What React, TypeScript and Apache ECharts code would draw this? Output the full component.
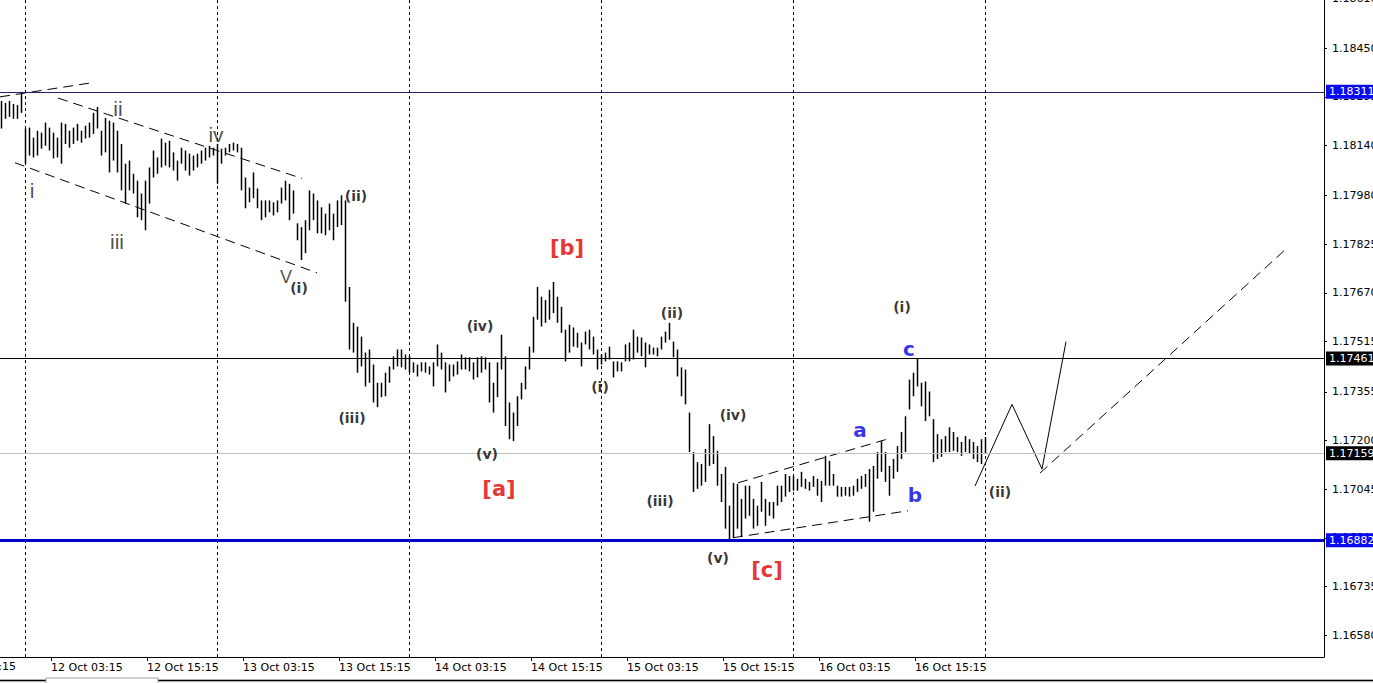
import React, { useEffect, useRef } from "react";
import * as echarts from "echarts";

// 30-minute bars; bar index 0 = 12 Oct 00:00
const FIRST_BAR = -6;

const barHigh = [
  1.18282, 1.18276, 1.18282, 1.18272, 1.18269, 1.18311,
  1.18194, 1.18197, 1.18165, 1.18187, 1.18181, 1.18213, 1.18197, 1.18181, 1.18165, 1.18213, 1.18209, 1.18187,
  1.18197, 1.18209, 1.18187, 1.18203, 1.18213, 1.18244, 1.18263, 1.18187, 1.18228, 1.18219, 1.18213, 1.18187,
  1.18145, 1.18082, 1.18092, 1.18050, 1.18028, 1.17987, 1.18028, 1.18070, 1.18124, 1.18102, 1.18162, 1.18149,
  1.18155, 1.18118, 1.18092, 1.18133, 1.18124, 1.18114, 1.18108, 1.18114, 1.18124, 1.18133, 1.18139, 1.18133,
  1.18145, 1.18130, 1.18133, 1.18145, 1.18149, 1.18145, 1.18133, 1.18038, 1.18006, 1.18054, 1.18003, 1.17965,
  1.17965, 1.17965, 1.17959, 1.17965, 1.18006, 1.18028, 1.18018, 1.17997, 1.17892, 1.17880, 1.17902, 1.17997,
  1.17987, 1.17965, 1.17943, 1.17923, 1.17955, 1.17923, 1.17965, 1.17981, 1.17965, 1.17689, 1.17575, 1.17563,
  1.17531, 1.17480, 1.17490, 1.17442, 1.17384, 1.17384, 1.17416, 1.17436, 1.17468, 1.17490, 1.17490, 1.17474,
  1.17468, 1.17449, 1.17442, 1.17449, 1.17449, 1.17436, 1.17449, 1.17506, 1.17480, 1.17449, 1.17442, 1.17442,
  1.17452, 1.17474, 1.17465, 1.17465, 1.17449, 1.17465, 1.17468, 1.17465, 1.17449, 1.17384, 1.17449, 1.17537,
  1.17468, 1.17321, 1.17289, 1.17341, 1.17384, 1.17436, 1.17499, 1.17594, 1.17689, 1.17658, 1.17648, 1.17680,
  1.17705, 1.17658, 1.17626, 1.17553, 1.17569, 1.17560, 1.17543, 1.17512, 1.17547, 1.17553, 1.17531, 1.17490,
  1.17474, 1.17480, 1.17499, 1.17452, 1.17452, 1.17449, 1.17506, 1.17512, 1.17553, 1.17531, 1.17528, 1.17512,
  1.17506, 1.17496, 1.17496, 1.17531, 1.17547, 1.17575, 1.17515, 1.17490, 1.17433, 1.17426, 1.17289, 1.17163,
  1.17131, 1.17125, 1.17173, 1.17252, 1.17214, 1.17167, 1.17093, 1.17116, 1.16992, 1.17065, 1.17062, 1.17014,
  1.17056, 1.17056, 1.17014, 1.16992, 1.17068, 1.17014, 1.17004, 1.17004, 1.17056, 1.17056, 1.17093, 1.17087,
  1.17087, 1.17078, 1.17100, 1.17078, 1.17068, 1.17087, 1.17078, 1.17071, 1.17151, 1.17135, 1.17093, 1.17056,
  1.17052, 1.17052, 1.17052, 1.17056, 1.17078, 1.17087, 1.17093, 1.17109, 1.17119, 1.17163, 1.17198, 1.17163,
  1.17119, 1.17141, 1.17182, 1.17227, 1.17277, 1.17394, 1.17416, 1.17461, 1.17384, 1.17388, 1.17356, 1.17268,
  1.17220, 1.17204, 1.17214, 1.17242, 1.17227, 1.17211, 1.17195, 1.17214, 1.17204, 1.17195, 1.17182, 1.17204,
  1.17211,
];

const barLow = [
  1.18194, 1.18225, 1.18231, 1.18225, 1.18225, 1.18244,
  1.18082, 1.18108, 1.18102, 1.18108, 1.18130, 1.18139, 1.18124, 1.18099, 1.18102, 1.18082, 1.18145, 1.18133,
  1.18145, 1.18155, 1.18149, 1.18162, 1.18165, 1.18177, 1.18194, 1.18108, 1.18118, 1.18054, 1.18092, 1.18054,
  1.17997, 1.17955, 1.17997, 1.17987, 1.17911, 1.17902, 1.17870, 1.17955, 1.18038, 1.18050, 1.18070, 1.18076,
  1.18070, 1.18060, 1.18028, 1.18082, 1.18060, 1.18044, 1.18060, 1.18070, 1.18082, 1.18092, 1.18102, 1.18108,
  1.18018, 1.18082, 1.18108, 1.18118, 1.18124, 1.18118, 1.17997, 1.17940, 1.17959, 1.17972, 1.17940, 1.17902,
  1.17911, 1.17927, 1.17917, 1.17927, 1.17955, 1.17965, 1.17902, 1.17923, 1.17838, 1.17775, 1.17797, 1.17870,
  1.17902, 1.17860, 1.17860, 1.17854, 1.17870, 1.17838, 1.17880, 1.17886, 1.17642, 1.17490, 1.17480, 1.17416,
  1.17436, 1.17372, 1.17384, 1.17321, 1.17306, 1.17338, 1.17341, 1.17384, 1.17426, 1.17436, 1.17433, 1.17426,
  1.17416, 1.17416, 1.17404, 1.17420, 1.17416, 1.17410, 1.17372, 1.17436, 1.17426, 1.17353, 1.17388, 1.17404,
  1.17410, 1.17426, 1.17426, 1.17420, 1.17394, 1.17401, 1.17416, 1.17426, 1.17321, 1.17289, 1.17338, 1.17426,
  1.17246, 1.17204, 1.17198, 1.17246, 1.17331, 1.17363, 1.17426, 1.17480, 1.17585, 1.17563, 1.17575, 1.17585,
  1.17606, 1.17575, 1.17543, 1.17452, 1.17480, 1.17499, 1.17496, 1.17436, 1.17506, 1.17490, 1.17474, 1.17426,
  1.17442, 1.17452, 1.17458, 1.17401, 1.17420, 1.17420, 1.17452, 1.17452, 1.17458, 1.17480, 1.17468, 1.17433,
  1.17474, 1.17474, 1.17468, 1.17490, 1.17512, 1.17521, 1.17465, 1.17404, 1.17341, 1.17315, 1.17163, 1.17036,
  1.17046, 1.17056, 1.17068, 1.17119, 1.17125, 1.17056, 1.17004, 1.16919, 1.16882, 1.16890, 1.16919, 1.16894,
  1.16951, 1.16960, 1.16919, 1.16928, 1.16973, 1.16928, 1.16960, 1.16951, 1.16992, 1.17004, 1.17021, 1.17036,
  1.17040, 1.17040, 1.17052, 1.17046, 1.17040, 1.17052, 1.17024, 1.17004, 1.17056, 1.17056, 1.17056, 1.17021,
  1.17021, 1.17024, 1.17021, 1.17024, 1.17036, 1.17046, 1.17052, 1.16941, 1.16973, 1.17078, 1.17100, 1.17068,
  1.17024, 1.17078, 1.17100, 1.17141, 1.17163, 1.17299, 1.17341, 1.17372, 1.17309, 1.17262, 1.17277, 1.17131,
  1.17141, 1.17148, 1.17163, 1.17163, 1.17167, 1.17163, 1.17151, 1.17163, 1.17157, 1.17141, 1.17131, 1.17125,
  1.17157,
];

const timeTicks = [6.5, 30.5, 54.5, 78.5, 102.5, 126.5, 150.5, 174.5, 198.5, 222.5];
const timeLabels = [
  "12 Oct 03:15", "12 Oct 15:15", "13 Oct 03:15", "13 Oct 15:15", "14 Oct 03:15",
  "14 Oct 15:15", "15 Oct 03:15", "15 Oct 15:15", "16 Oct 03:15", "16 Oct 15:15",
];
const hiddenLeftLabel = "9 Oct 15:15";
const daySeparators = [0, 48, 96, 144, 192, 240];

const priceTicks = [
  1.1861, 1.1845, 1.18295, 1.1814, 1.1798, 1.17825, 1.1767,
  1.17515, 1.17355, 1.172, 1.17045, 1.1689, 1.16735, 1.1658,
];

const levelValues = [1.18311, 1.17461, 1.17159, 1.16882];
const levelKinds = ["navy", "black", "bid", "support"];

const trendLines = [
  { from: [-6.25, 1.18295], to: [16.25, 1.18339], kind: "dashed" },
  { from: [8.25, 1.18291], to: [69.25, 1.18035], kind: "dashed" },
  { from: [-2.5, 1.18085], to: [73, 1.17734], kind: "dashed" },
  { from: [178.25, 1.17065], to: [215.5, 1.17204], kind: "dashed" },
  { from: [177, 1.1689], to: [220.75, 1.16976], kind: "dashed" },
  { from: [237.5, 1.17055], to: [246.75, 1.17315], kind: "solid" },
  { from: [246.75, 1.17315], to: [254.25, 1.17109], kind: "solid" },
  { from: [254.25, 1.17109], to: [260.25, 1.17515], kind: "solid" },
  { from: [253.75, 1.17096], to: [315.75, 1.17816], kind: "dashed" },
];

const waveLabels = [
  { text: "i", at: [1.75, 1.17997], kind: "minor" },
  { text: "ii", at: [23.25, 1.18257], kind: "minor" },
  { text: "iii", at: [23, 1.17835], kind: "minor" },
  { text: "iv", at: [47.75, 1.18174], kind: "minor" },
  { text: "V", at: [65.25, 1.17721], kind: "minorCap" },
  { text: "(i)", at: [68.5, 1.17686], kind: "minute" },
  { text: "(ii)", at: [82.75, 1.17978], kind: "minute" },
  { text: "(iii)", at: [81.75, 1.17271], kind: "minute" },
  { text: "(iv)", at: [113.75, 1.17566], kind: "minute" },
  { text: "(v)", at: [115.5, 1.17157], kind: "minute" },
  { text: "[a]", at: [118.5, 1.17046], kind: "red" },
  { text: "[b]", at: [135.5, 1.17813], kind: "red" },
  { text: "(i)", at: [143.75, 1.17369], kind: "minute" },
  { text: "(ii)", at: [161.75, 1.17607], kind: "minute" },
  { text: "(iii)", at: [158.75, 1.17008], kind: "minute" },
  { text: "(iv)", at: [177, 1.1728], kind: "minute" },
  { text: "(v)", at: [173.25, 1.16827], kind: "minute" },
  { text: "[c]", at: [185.5, 1.16786], kind: "red" },
  { text: "(i)", at: [219.25, 1.17626], kind: "minute" },
  { text: "c", at: [221, 1.1749], kind: "blue" },
  { text: "a", at: [208.75, 1.17233], kind: "blue" },
  { text: "b", at: [222.5, 1.17027], kind: "blue" },
  { text: "(ii)", at: [243.75, 1.17036], kind: "minute" },
];

const FONT = "DejaVu Sans";

const labelStyles: Record<string, any> = {
  minor: { fontFamily: "Liberation Sans", fontSize: 21, color: "#1e1e1e" },
  minorCap: { fontFamily: "Liberation Sans", fontSize: 18, color: "#1e1e1e" },
  minute: { fontFamily: FONT, fontSize: 14, fontWeight: "bold", color: "#000" },
  red: { fontFamily: FONT, fontSize: 21, fontWeight: "bold", color: "#e00000" },
  blue: { fontFamily: FONT, fontSize: 20, fontWeight: "bold", color: "#0000dd" },
};

const levelStyles: Record<string, any> = {
  navy: { line: { color: "#23236e", width: 1, type: "solid" }, box: "#0a0af0" },
  black: { line: { color: "#000000", width: 1, type: "solid" }, box: "#000000" },
  bid: { line: { color: "#c0c0c0", width: 1, type: "solid" }, box: "#000000" },
  support: { line: { color: "#0000c8", width: 3, type: "solid" }, box: "#0a0af0" },
};

export default function App() {
  const ref = useRef<HTMLDivElement>(null);

  useEffect(() => {
    if (!ref.current) return;
    const chart = echarts.init(ref.current, undefined, { renderer: "svg" });

    const bars = barHigh.map((h, k) => [FIRST_BAR + k, h, barLow[k]]);

    const lineSeries = trendLines.map((t) => ({
      type: "line",
      data: [t.from, t.to],
      showSymbol: false,
      symbol: "none",
      silent: true,
      z: 3,
      lineStyle: {
        color: "#000",
        width: 1,
        type: t.kind === "dashed" ? [10, 6] : "solid",
      },
    }));

    const markData: any[] = [
      ...daySeparators.map((d) => ({
        xAxis: d,
        lineStyle: { color: "#000", width: 1, type: [3, 3] },
        label: { show: false },
      })),
      ...levelValues.map((v, k) => {
        const st = levelStyles[levelKinds[k]];
        return {
          yAxis: v,
          lineStyle: st.line,
          label: {
            show: true,
            position: "end",
            distance: 2,
            formatter: v.toFixed(5),
            color: "#fff",
            backgroundColor: st.box,
            padding: [2, 4, 1, 3],
            fontFamily: FONT,
            fontSize: 11,
          },
        };
      }),
    ];

    chart.setOption({
      animation: false,
      backgroundColor: "#fff",
      grid: {
        left: 0,
        right: 49,
        top: -2,
        bottom: 26,
        containLabel: false,
        outerBoundsMode: "none",
      },
      xAxis: {
        type: "value",
        min: -6.25,
        max: 324.75,
        splitLine: { show: false },
        axisLine: { show: true, onZero: false, lineStyle: { color: "#000", width: 1 } },
        axisTick: {
          show: true,
          customValues: timeTicks,
          length: 4,
          lineStyle: { color: "#000" },
        },
        axisLabel: {
          show: true,
          customValues: timeTicks,
          formatter: (v: number) => {
            const k = timeTicks.indexOf(v);
            return k >= 0 ? timeLabels[k] : "";
          },
          align: "left",
          margin: 5,
          color: "#000",
          fontFamily: FONT,
          fontSize: 11,
        },
      },
      yAxis: {
        type: "value",
        position: "right",
        min: 1.1651,
        max: 1.1861,
        scale: true,
        splitLine: { show: false },
        axisLine: { show: true, onZero: false, lineStyle: { color: "#000", width: 1 } },
        axisTick: {
          show: true,
          customValues: priceTicks,
          length: 3,
          lineStyle: { color: "#000" },
        },
        axisLabel: {
          show: true,
          customValues: priceTicks,
          formatter: (v: number) => v.toFixed(5),
          margin: 8,
          color: "#000",
          fontFamily: FONT,
          fontSize: 11,
        },
      },
      series: [
        {
          type: "custom",
          clip: true,
          silent: true,
          z: 2,
          encode: { x: 0, y: [1, 2] },
          data: bars,
          renderItem: (_params: any, api: any) => {
            const x = api.value(0);
            const hi = api.coord([x, api.value(1)]);
            const lo = api.coord([x, api.value(2)]);
            const px = Math.round(hi[0]) + 0.5;
            return {
              type: "line",
              shape: { x1: px, y1: hi[1], x2: px, y2: lo[1] },
              style: { stroke: "#000", lineWidth: 1.5 },
            };
          },
        },
        ...lineSeries,
        {
          type: "scatter",
          symbolSize: 1,
          silent: true,
          z: 5,
          itemStyle: { color: "rgba(0,0,0,0)" },
          data: waveLabels.map((w) => ({
            value: w.at,
            label: {
              show: true,
              position: "inside",
              formatter: w.text,
              ...labelStyles[w.kind],
            },
          })),
          markLine: {
            silent: true,
            symbol: ["none", "none"],
            precision: 5,
            animation: false,
            data: markData,
          },
        },
      ],
      graphic: [
        {
          type: "text",
          x: 16,
          y: 661,
          silent: true,
          style: {
            text: hiddenLeftLabel,
            align: "right",
            verticalAlign: "top",
            fill: "#000",
            font: `11px "${FONT}"`,
          },
        },
        {
          type: "rect",
          silent: true,
          shape: { x: 0, y: 679, width: 1373, height: 4 },
          style: { fill: "#f0f0f0" },
        },
        {
          type: "line",
          silent: true,
          shape: { x1: 0, y1: 680.5, x2: 1373, y2: 680.5 },
          style: { stroke: "#000", lineWidth: 1.5 },
        },
        {
          type: "rect",
          silent: true,
          shape: { x: 46, y: 678, width: 112, height: 6 },
          style: { fill: "#ffffff", stroke: "#a0a0a0", lineWidth: 1 },
        },
      ],
    });

    return () => chart.dispose();
  }, []);

  return (
    <div
      ref={ref}
      style={{ position: "absolute", left: 0, top: 0, width: 1373, height: 683 }}
    />
  );
}
